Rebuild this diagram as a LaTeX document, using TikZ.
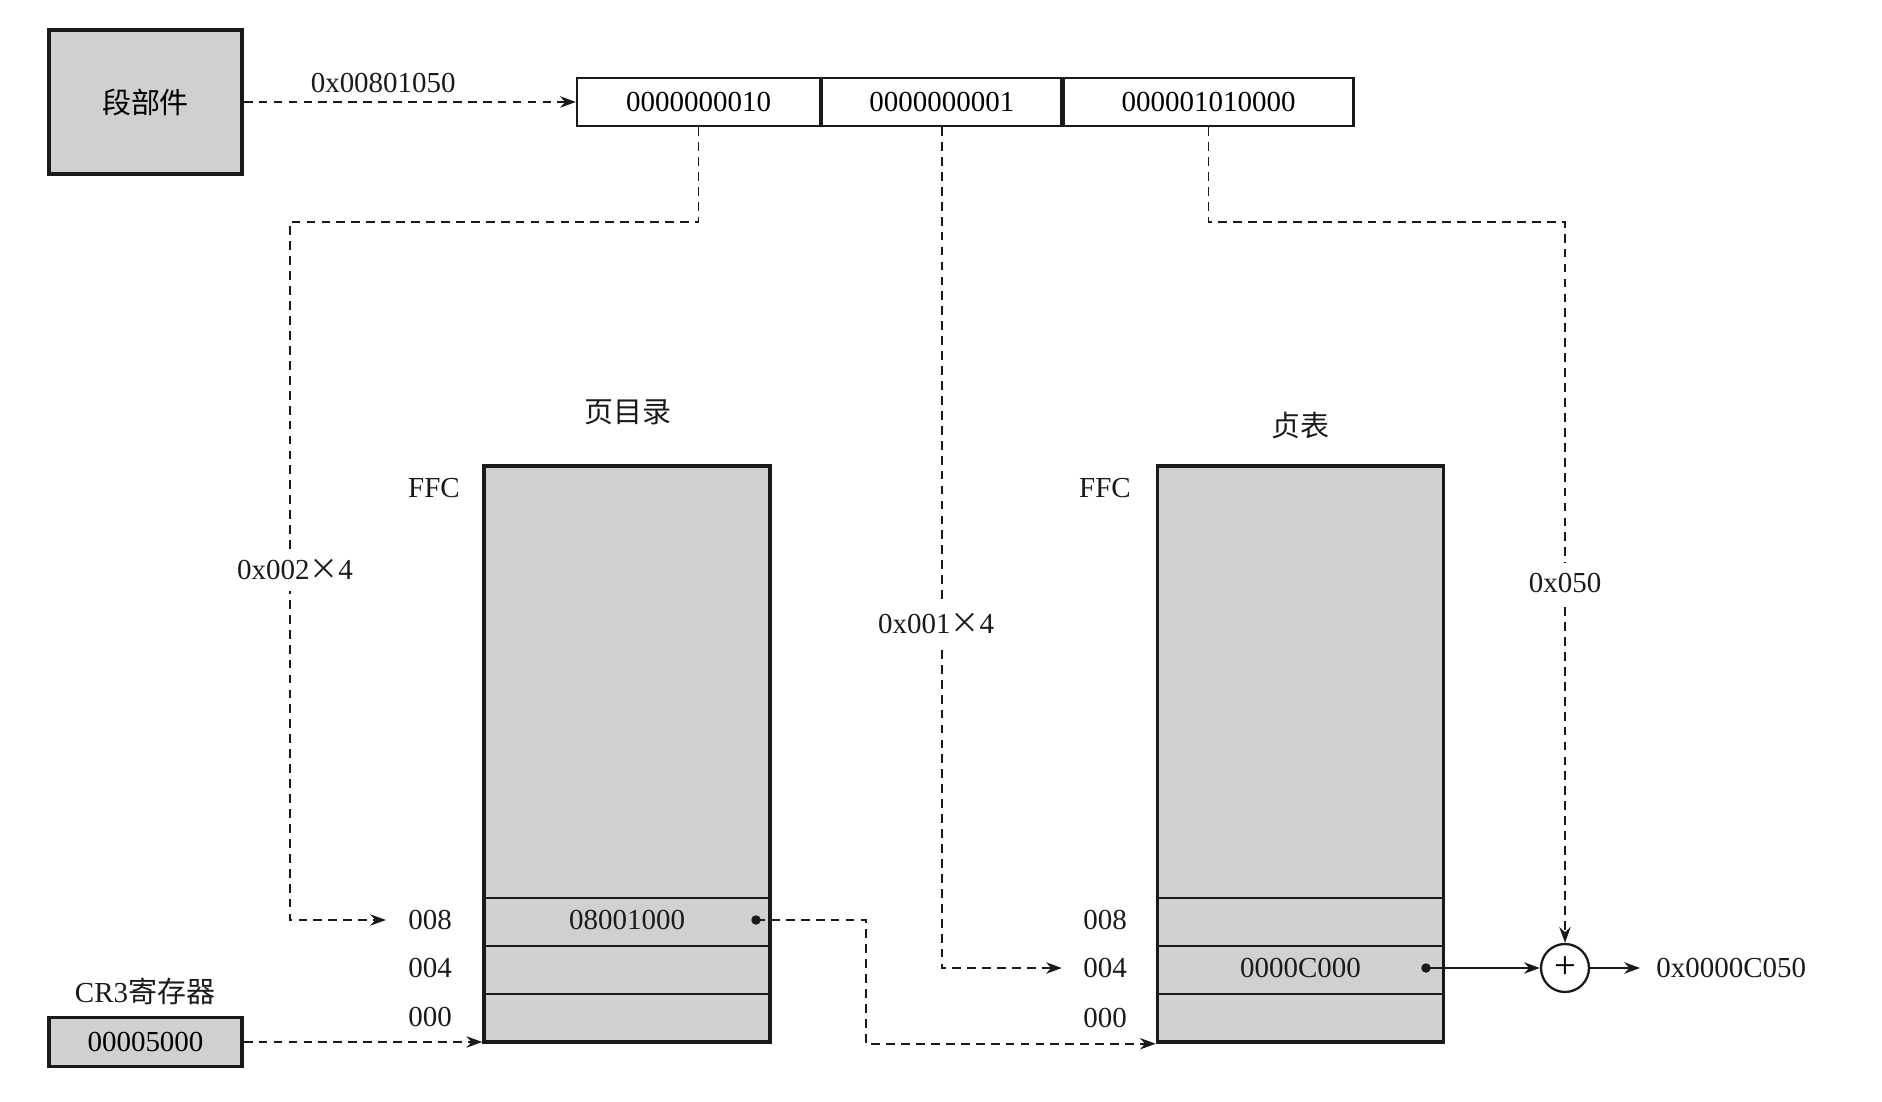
\documentclass[tikz,border=0pt]{standalone}
\usepackage{fontspec}
\setmainfont{Liberation Serif}
\newfontfamily\cjk{Noto Sans CJK SC}
\usetikzlibrary{arrows.meta,positioning,calc}
\definecolor{ink}{HTML}{1A1A1A}
\definecolor{cellfill}{HTML}{D0D0D0}
\newcommand{\figfont}{\fontsize{16.5}{19}\selectfont}
\tikzset{
  lbl/.style={font=\figfont, text=ink, inner sep=1pt},
  regbox/.style={draw=ink, fill=cellfill, line width=2pt, inner sep=0pt,
                 align=center, font=\figfont},
  addrcell/.style={draw=ink, fill=white, line width=1.3pt, inner sep=0pt,
                   minimum height=0.96cm, font=\figfont},
  tabbox/.style={draw=ink, fill=cellfill, line width=2pt, inner sep=0pt,
                 minimum width=5.72cm, minimum height=11.52cm},
  rowline/.style={draw=ink, line width=1.2pt},
  dot/.style={circle, fill=ink, inner sep=0pt, minimum size=0.19cm},
  dar/.style={-{Stealth[length=9pt,width=6.5pt]}, draw=ink, line width=1pt,
              dash pattern=on 5pt off 3.5pt},
  sar/.style={-{Stealth[length=9pt,width=6.5pt]}, draw=ink, line width=1.2pt},
  cutlbl/.style={lbl, fill=white, inner xsep=1pt, inner ysep=6pt}
}

\begin{document}
\begin{tikzpicture}[x=1cm,y=1cm]
  \useasboundingbox (0,0) rectangle (37.64,22.02);

  % segment unit and linear address
  \node[regbox, minimum width=3.86cm, minimum height=2.88cm] (seg) at (2.91,19.98) {\cjk 段部件};
  \node[addrcell, minimum width=4.86cm] (cell1) at (13.97,19.98) {0000000010};
  \node[addrcell, minimum width=4.78cm, right=0pt of cell1] (cell2) {0000000001};
  \node[addrcell, minimum width=5.80cm, right=0pt of cell2] (cell3) {000001010000};

  % page directory
  \node[lbl] (pdt) at (12.56,13.78) {\cjk 页目录};
  \node[tabbox] (pd) at (12.54,6.94) {};
  \foreach \k in {0,1,2}
    \draw[rowline] ($(pd.south west)+(0,1.0+\k*0.96)$) -- ($(pd.south east)+(0,1.0+\k*0.96)$);
  \node[lbl] (pdffc) at (8.68,12.26) {FFC};
  \node[lbl] (pdl8) at (8.60,3.62) {008};
  \node[lbl] (pdl4) at (8.60,2.66) {004};
  \node[lbl] (pdl0) at (8.60,1.68) {000};
  \node[lbl] (pde) at (12.54,3.62) {08001000};
  \node[dot] (pddot) at (15.12,3.62) {};

  % page table
  \node[lbl] (ptt) at (26.00,13.50) {\cjk 贞表};
  \node[tabbox] (pt) at (26.01,6.94) {};
  \foreach \k in {0,1,2}
    \draw[rowline] ($(pt.south west)+(0,1.0+\k*0.96)$) -- ($(pt.south east)+(0,1.0+\k*0.96)$);
  \node[lbl] (ptffc) at (22.10,12.26) {FFC};
  \node[lbl] (ptl8) at (22.10,3.62) {008};
  \node[lbl] (ptl4) at (22.10,2.66) {004};
  \node[lbl] (ptl0) at (22.10,1.66) {000};
  \node[lbl] (pte) at (26.01,2.66) {0000C000};
  \node[dot] (ptdot) at (28.52,2.66) {};

  % adder and result
  \node[circle, draw=ink, line width=1.3pt, minimum size=0.96cm, inner sep=0pt,
        font=\fontsize{22}{22}\selectfont] (plus) at (31.30,2.66) {+};
  \node[lbl, right=1.28cm of plus] (res) {0x0000C050};

  % CR3
  \node[lbl] (cr3t) at (2.90,2.20) {CR3{\cjk 寄存器}};
  \node[regbox, minimum width=3.86cm, minimum height=0.98cm] (cr3) at (2.91,1.18) {00005000};

  \coordinate (bend1) at (17.32,3.62);

  % connectors
  \draw[dar] (seg.east) -- node[lbl, above=4pt, pos=0.42] {0x00801050} (cell1.west);
  \draw[dar, shorten >=11.5pt] (cell1.south) |- (5.80,17.58) |- (pdl8.west);
  \draw[dar, shorten >=11pt] (cell2.south) |- (ptl4.west);
  \draw[dar] (cell3.south) |- (31.30,17.58) -- (plus.north);
  \draw[dar] (pddot.center) -- (bend1) |- (pt.south west);
  \draw[dar] (cr3.east) -- (cr3.east -| pd.south west);
  \draw[sar] (ptdot.center) -- (plus.west);
  \draw[sar, shorten >=8pt] (plus.east) -- (res.west);

  \node[cutlbl] (off1) at (5.90,10.62) {0x002{\cjk ×}4};
  \node[cutlbl] (off2) at (18.72,9.54) {0x001{\cjk ×}4};
  \node[cutlbl] (off3) at (31.30,10.36) {0x050};
\end{tikzpicture}
\end{document}
